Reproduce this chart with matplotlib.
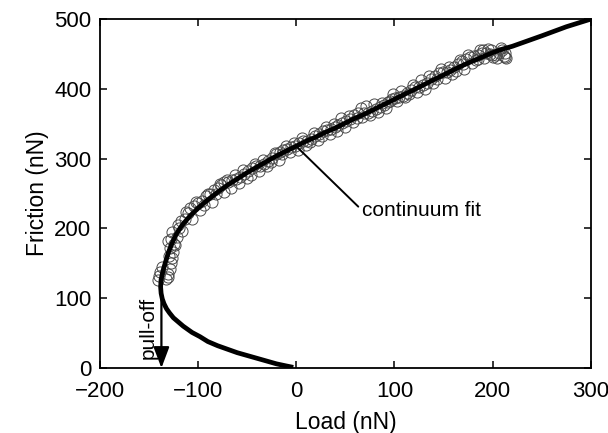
import matplotlib
matplotlib.use("Agg")
import matplotlib.pyplot as plt

plt.rcParams['font.family'] = ['Liberation Sans', 'DejaVu Sans']

# continuum fit curve (lower branch then upper branch)
fit_load = [-3, -10, -20, -30, -40, -50, -60, -70, -80, -90, -98, -106, -115, -120,
            -125, -129, -132, -134.5, -136.3, -137.5, -138,
            -137.6, -136.6, -135.5, -133, -130, -126, -122, -116, -108, -100, -90, -80, -70,
            -60, -50, -40, -30, -20, -10, 0, 10, 20, 30, 40, 50, 60, 70, 80, 90, 100,
            110, 120, 130, 140, 150, 160, 170, 180, 190, 200, 210, 220, 250, 275, 300]
fit_friction = [1, 3, 6, 10, 14, 18, 22, 27, 32, 38, 45, 51, 60, 66,
                72, 79, 85, 92, 99, 107, 116,
                126, 133, 140, 152, 166, 180, 192, 205, 218, 229, 241, 252, 262,
                271, 280, 288, 296, 304, 311, 318, 325, 331, 338, 344, 351, 358, 364,
                371, 378, 385, 392, 399, 406, 413, 420, 427, 434, 440, 446, 452, 457,
                461, 476, 489, 500]

# measured friction (open circles), loading pass
data_load = [-141, -140, -139, -137, -133, -130, -128, -127, -126, -125, -128, -124,
             -130, -121, -126, -119, -117, -113, -110, -108, -104, -100, -96, -92,
             -88, -84, -80, -77, -73, -69, -65, -61, -57, -53, -49, -45, -41, -37,
             -33, -29, -25, -21, -17, -13, -9, -5, -1, 3, 7, 11, 15, 19, 23, 27, 31,
             35, 39, 43, 47, 51, 55, 59, 63, 66, 69, 73, 77, 81, 85, 89, 93, 97, 101,
             105, 109, 113, 117, 121, 125, 129, 133, 137, 141, 145, 149, 153, 157,
             161, 165, 169, 173, 177, 181, 185, 189, 193, 197, 200, 203, 206, 209,
             212, 214, 211, 198, 190, 185, 170]
data_friction = [126, 132, 138, 145, 128, 135, 142, 150, 158, 166, 172, 178,
                 182, 188, 195, 200, 210, 214, 222, 230, 232, 236, 240, 246,
                 249, 255, 258, 262, 266, 267, 270, 271, 274, 278, 282, 287, 289, 290,
                 292, 296, 301, 306, 309, 312, 314, 316, 318, 322, 325, 326, 328, 332,
                 336, 339, 341, 342, 345, 348, 351, 354, 357, 362, 366, 372, 366, 365,
                 368, 371, 374, 377, 381, 385, 387, 388, 390, 394, 399, 402, 403, 405,
                 409, 414, 419, 422, 424, 424, 427, 432, 436, 440, 443, 445, 447, 449,
                 451, 452, 450, 446, 448, 452, 455, 451, 444, 447, 455, 455, 443, 436]

# measured friction, unloading pass
data2_load = [-131, -129, -127, -123, -120, -116, -112, -106, -102, -98, -94, -90,
              -86, -82, -78, -74, -70, -66, -62, -58, -54, -50, -46, -42, -38, -34,
              -30, -26, -22, -18, -14, -10, -6, -2, 2, 6, 10, 14, 18, 22, 26, 30, 34,
              38, 42, 46, 50, 54, 58, 62, 67, 71, 75, 79, 83, 87, 91, 95, 99, 103, 107,
              111, 115, 119, 123, 127, 131, 135, 139, 143, 147, 151, 155, 159, 163,
              167, 171, 175, 179, 183, 187, 191, 195, 199, 204, 208, 213]
data2_friction = [130, 160, 185, 176, 205, 196, 224, 214, 238, 226, 234, 250,
                  238, 250, 264, 252, 269, 258, 276, 265, 284, 272, 276, 292, 282, 298,
                  290, 295, 308, 298, 306, 318, 309, 322, 313, 330, 320, 324, 337, 327,
                  333, 346, 335, 349, 339, 358, 346, 361, 352, 358, 360, 376, 363, 378,
                  367, 380, 372, 383, 392, 382, 397, 388, 393, 406, 396, 412, 400, 419,
                  408, 414, 428, 416, 432, 421, 426, 441, 429, 448, 437, 442, 455, 444,
                  457, 448, 444, 458, 446]

pulloff_load = -137.2
pulloff_top = 116

fig = plt.figure(figsize=(6.08, 4.33), dpi=100)
ax = fig.add_axes([0.164, 0.150, 0.808, 0.806])

ax.plot(data_load, data_friction, 'o', mfc='none', mec='#4a4a4a', mew=0.7, ms=8, zorder=2)
ax.plot(data2_load, data2_friction, 'o', mfc='none', mec='#4a4a4a', mew=0.7, ms=8, zorder=2)
ax.plot(fit_load, fit_friction, '-', color='black', lw=3.4, solid_capstyle='butt',
        solid_joinstyle='round', zorder=3)

ax.annotate('', xy=(pulloff_load, 0), xytext=(pulloff_load, pulloff_top),
            arrowprops=dict(arrowstyle='-|>,head_width=0.32,head_length=0.85',
                            mutation_scale=15, color='black', lw=1.6,
                            shrinkA=0, shrinkB=0), zorder=4)
ax.text(-151, 57, 'pull-off', rotation=90, ha='center', va='center', fontsize=15)

ax.annotate('continuum fit', xy=(2, 315), xytext=(67, 226), fontsize=15,
            ha='left', va='center',
            arrowprops=dict(arrowstyle='-', color='black', lw=1.4,
                            shrinkA=1, shrinkB=0, relpos=(0, 0.5)))

ax.set_xlim(-200, 300)
ax.set_ylim(0, 500)
ax.set_xticks([-200, -100, 0, 100, 200, 300])
ax.set_xticklabels(['\u2212200', '\u2212100', '0', '100', '200', '300'])
ax.set_yticks([0, 100, 200, 300, 400, 500])
ax.tick_params(direction='in', length=5, width=1.1, top=True, right=True,
               labelsize=16, pad=6)
ax.tick_params(axis='x', pad=9)
for s in ax.spines.values():
    s.set_linewidth(1.3)

ax.set_xlabel('Load (nN)', fontsize=16.5, labelpad=7)
ax.set_ylabel('Friction (nN)', fontsize=16.5, labelpad=4)

fig.savefig('out.png', dpi=100)
